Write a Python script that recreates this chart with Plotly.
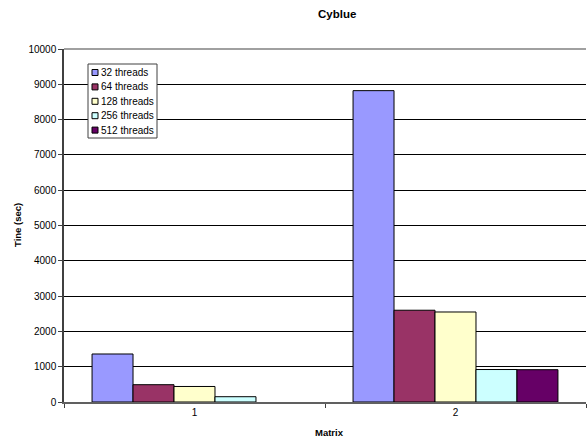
import plotly.graph_objects as go

# Run times (seconds) per matrix for each thread count
matrices = ["1", "2"]
series_names = ["32 threads", "64 threads", "128 threads", "256 threads", "512 threads"]
t32 = [1360, 8820]
t64 = [490, 2600]
t128 = [440, 2550]
t256 = [150, 920]
t512 = [None, 915]
series_values = [t32, t64, t128, t256, t512]
colors = ["#9999FF", "#993366", "#FFFFCC", "#CCFFFF", "#660066"]

W, H = 587, 440
L, R, T, B = 64, 1, 49, 38
plot_w = W - L - R
plot_h = H - T - B
FONT = "Liberation Sans, Arial, sans-serif"


def px_x(px):
    return (px - L) / plot_w


def px_y(py):
    return (H - B - py) / plot_h


fig = go.Figure()
for name, vals, col in zip(series_names, series_values, colors):
    fig.add_trace(go.Bar(
        x=matrices, y=vals, name=name,
        marker=dict(color=col, line=dict(color="black", width=1)),
    ))

# Compact boxed legend in the upper left of the plot area
box_x0, box_x1, box_y0, box_y1 = 88, 157, 64, 138
shapes = [dict(type="rect", xref="paper", yref="paper",
               x0=px_x(box_x0), x1=px_x(box_x1),
               y0=px_y(box_y1), y1=px_y(box_y0),
               fillcolor="white", line=dict(color="#404040", width=1),
               layer="above")]
annotations = []
row_h = 14.4
for i, (name, col) in enumerate(zip(series_names, colors)):
    cy = 72.5 + i * row_h
    shapes.append(dict(type="rect", xref="paper", yref="paper",
                       x0=px_x(92), x1=px_x(98),
                       y0=px_y(cy + 3), y1=px_y(cy - 3),
                       fillcolor=col, line=dict(color="black", width=1),
                       layer="above"))
    annotations.append(dict(xref="paper", yref="paper",
                            x=px_x(99), y=px_y(cy), text=name,
                            showarrow=False, xanchor="left", yanchor="middle",
                            font=dict(family=FONT, size=10, color="black")))

# Top border of the plot area
shapes.append(dict(type="line", xref="paper", yref="paper",
                   x0=0, x1=1, y0=1, y1=1,
                   line=dict(color="#808080", width=1.5), layer="above"))

annotations += [
    dict(xref="paper", yref="paper", x=px_x(337), y=px_y(14), text="<b>Cyblue</b>",
         showarrow=False, xanchor="center", yanchor="middle",
         font=dict(family=FONT, size=11.5, color="black")),
    dict(xref="paper", yref="paper", x=px_x(329), y=px_y(432), text="<b>Matrix</b>",
         showarrow=False, xanchor="center", yanchor="middle",
         font=dict(family=FONT, size=9.5, color="black")),
    dict(xref="paper", yref="paper", x=px_x(17), y=px_y(225), text="<b>Tine (sec)</b>",
         showarrow=False, xanchor="center", yanchor="middle", textangle=-90,
         font=dict(family=FONT, size=9.5, color="black")),
]

fig.update_layout(
    width=W, height=H,
    margin=dict(l=L, r=R, t=T, b=B, pad=0),
    paper_bgcolor="white", plot_bgcolor="white",
    barmode="group", bargap=0.215, bargroupgap=0,
    showlegend=False,
    shapes=shapes, annotations=annotations,
    font=dict(family=FONT, size=10, color="black"),
)
fig.update_xaxes(
    type="category", tickson="boundaries", ticks="outside", ticklen=4,
    tickcolor="#404040", showline=True, linecolor="#606060", linewidth=2,
    showgrid=False, tickfont=dict(family=FONT, size=10, color="black"),
)
fig.update_yaxes(
    range=[0, 10000], dtick=1000, tick0=0, tickformat="d",
    ticks="outside", ticklen=4,
    tickcolor="#404040", showline=True, linecolor="#404040", linewidth=1.5,
    showgrid=True, gridcolor="black", gridwidth=1, zeroline=False,
    tickfont=dict(family=FONT, size=10, color="black"),
)

fig.write_html("out.html")
